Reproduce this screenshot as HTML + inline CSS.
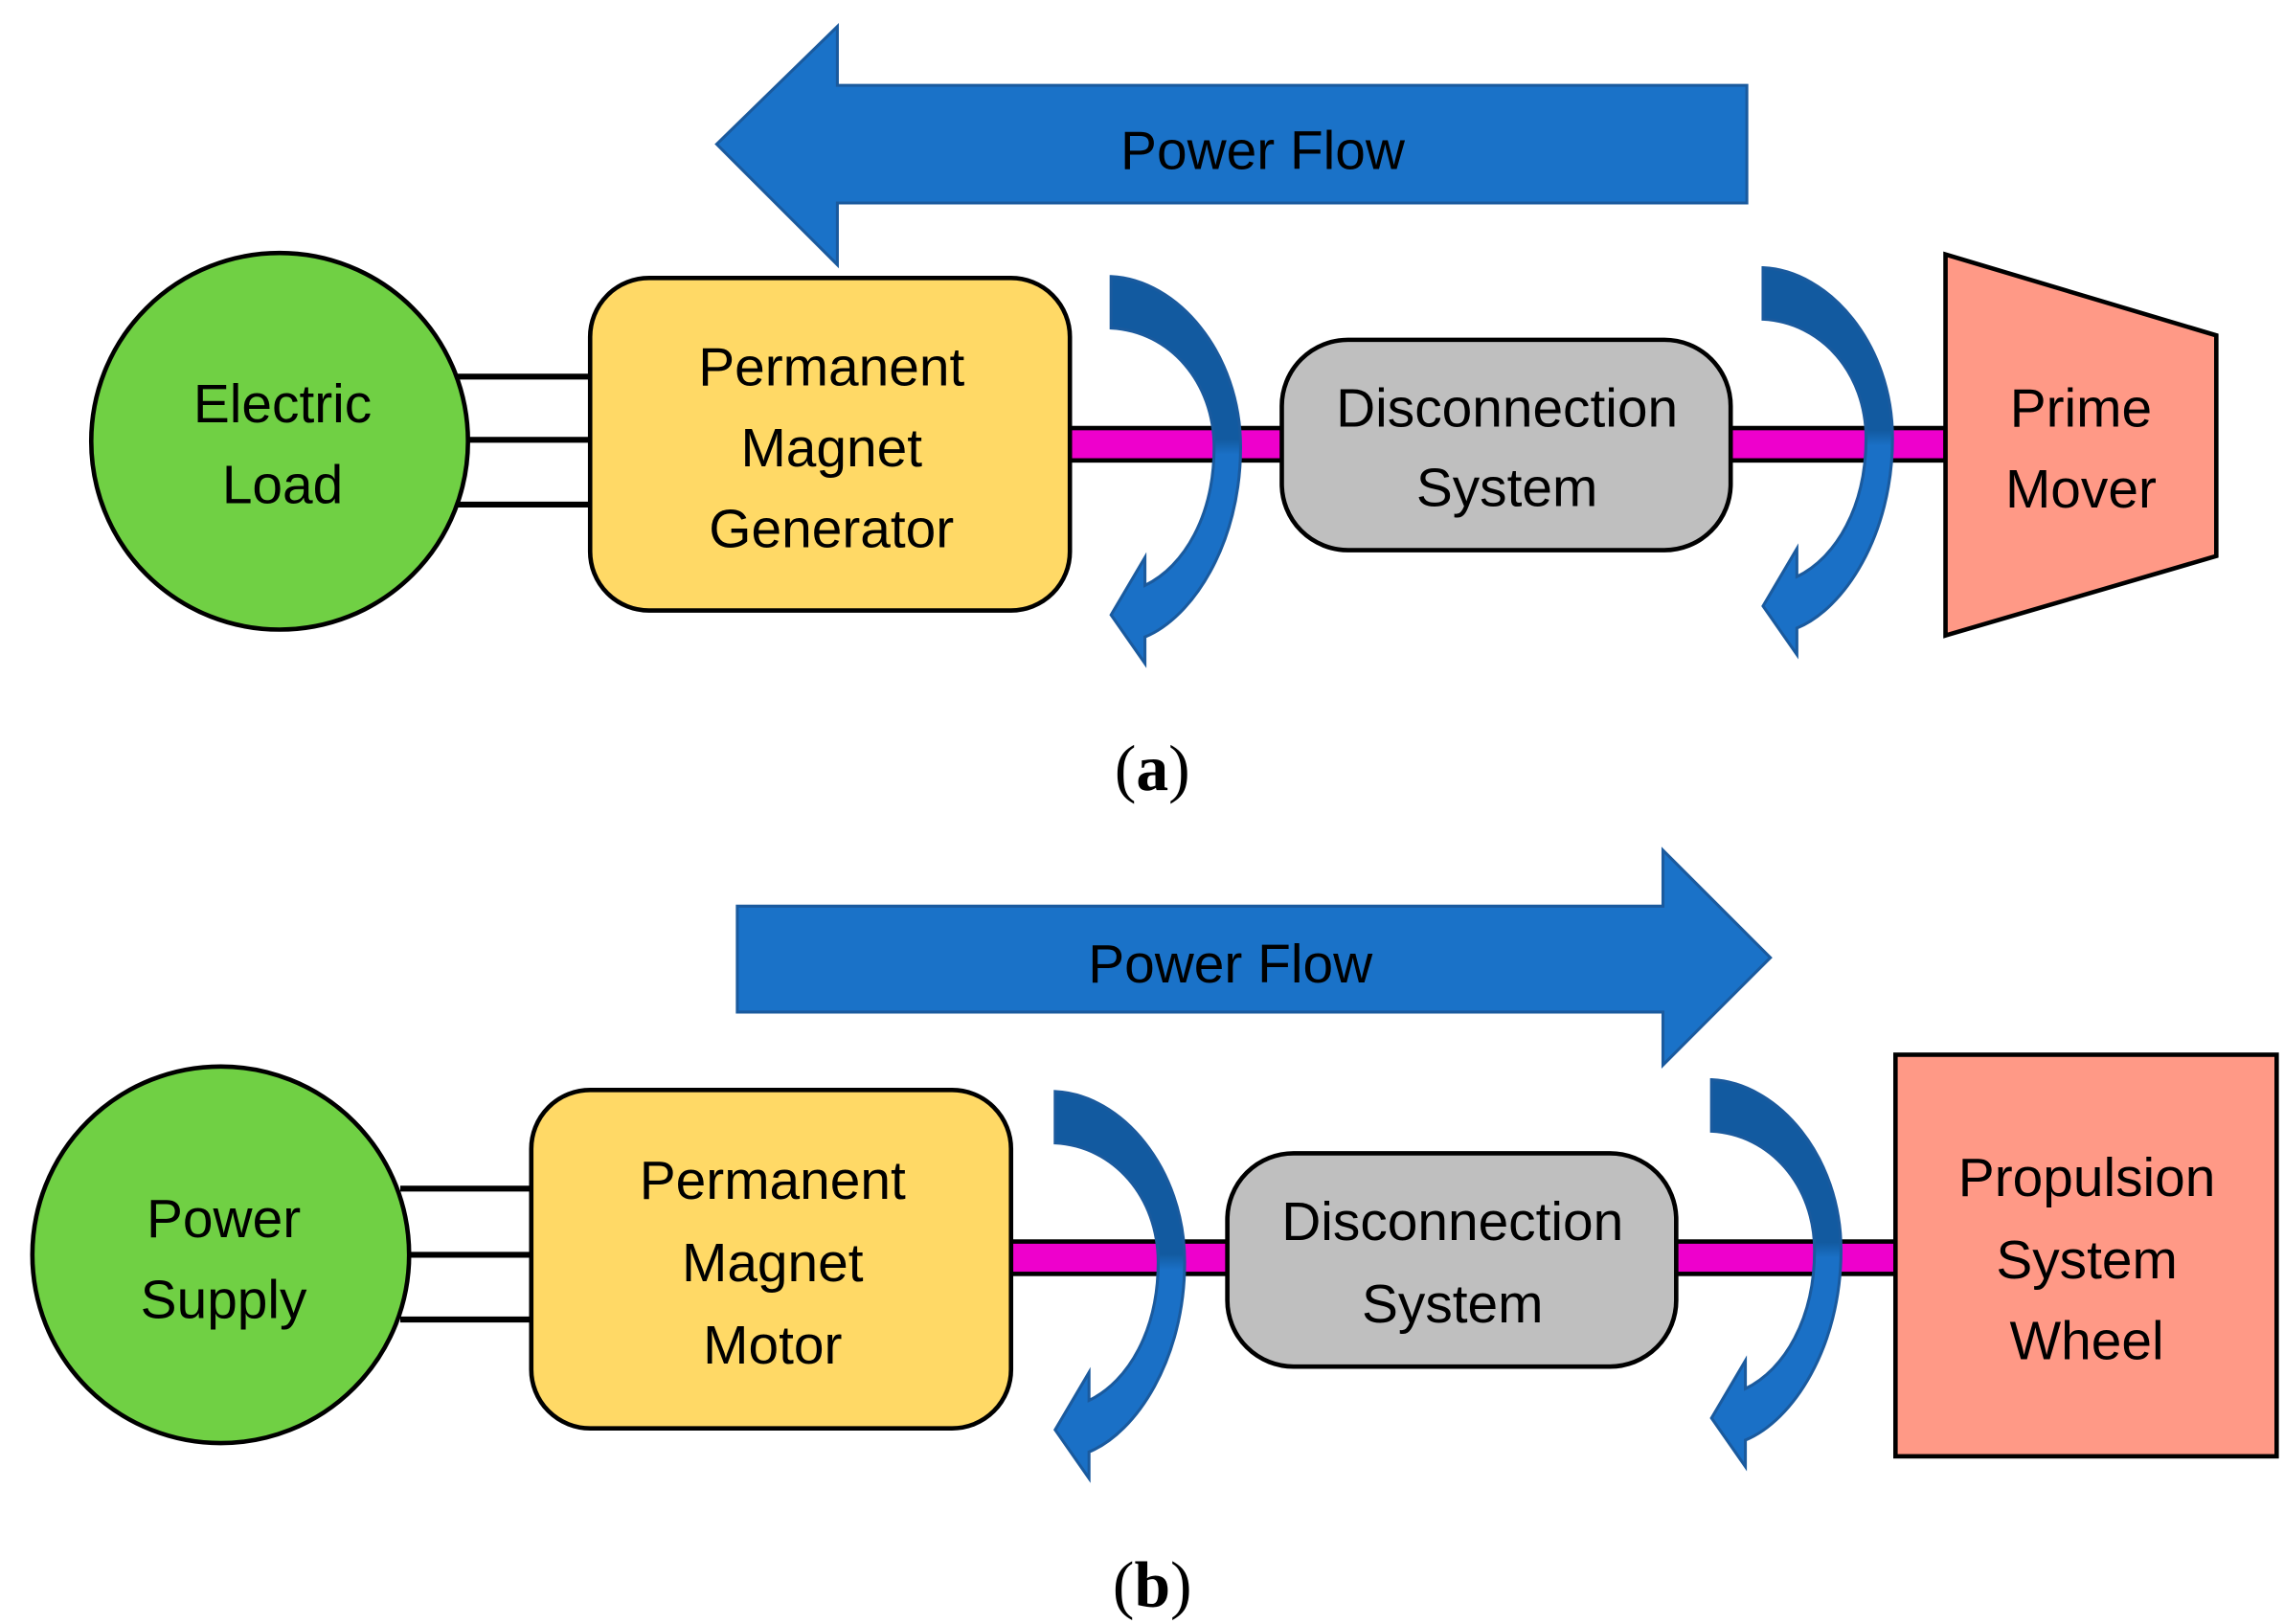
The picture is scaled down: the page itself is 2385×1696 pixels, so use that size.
<!DOCTYPE html>
<html><head><meta charset="utf-8"><style>html,body{margin:0;padding:0;background:#fff}svg{display:block}</style></head><body>
<svg width="2385" height="1696" viewBox="0 0 1552 1104" preserveAspectRatio="none" xmlns="http://www.w3.org/2000/svg">
<defs>
<linearGradient id="g" x1="0" y1="188" x2="0" y2="451" gradientUnits="userSpaceOnUse">
<stop offset="0" stop-color="#125aa0"/><stop offset="0.42" stop-color="#125aa0"/><stop offset="0.46" stop-color="#1a70c6"/><stop offset="1" stop-color="#1a70c6"/></linearGradient>
<path id="ca" d="M755,188 C800,190 843,240 843,304 C843,370 810,420 778,433 L778,451 L755,418 L778,379 L778,398 C805,385 825,350 825,304 C825,260 795,225 755,223 Z" fill="url(#g)" stroke="#1a5a9e" stroke-width="2"/>
</defs>
<g font-family="Liberation Sans, sans-serif" font-size="37" text-anchor="middle">
<!-- (a) -->
<polygon points="487,98 569,18 569,58 1187,58 1187,138 569,138 569,180" fill="#1a72c8" stroke="#1a5a9e" stroke-width="2"/>
<text x="858" y="115">Power Flow</text>
<line x1="310" y1="256" x2="401" y2="256" stroke="#000" stroke-width="4"/>
<line x1="310" y1="299" x2="401" y2="299" stroke="#000" stroke-width="4"/>
<line x1="310" y1="343" x2="401" y2="343" stroke="#000" stroke-width="4"/>
<circle cx="190" cy="300" r="128" fill="#70d044" stroke="#000" stroke-width="3"/>
<text x="192" y="287">Electric</text><text x="192" y="342">Load</text>
<rect x="727" y="291" width="595" height="22" fill="#ee00cc" stroke="#000" stroke-width="3"/>
<rect x="401" y="189" width="326" height="226" rx="40" fill="#ffd966" stroke="#000" stroke-width="3"/>
<text x="565" y="262">Permanent</text><text x="565" y="317">Magnet</text><text x="565" y="372">Generator</text>
<rect x="871" y="231" width="305" height="143" rx="45" fill="#bfbfbf" stroke="#000" stroke-width="3"/>
<text x="1024" y="290">Disconnection</text><text x="1024" y="344">System</text>
<polygon points="1322,173 1506,228 1506,378 1322,432" fill="#ff9986" stroke="#000" stroke-width="3"/>
<text x="1414" y="290">Prime</text><text x="1414" y="345">Mover</text>
<use href="#ca"/>
<use href="#ca" transform="translate(443,-6)"/>
<text x="783" y="537" font-family="Liberation Serif, serif" font-size="44">(<tspan font-weight="bold">a</tspan>)</text>
<!-- (b) -->
<polygon points="501,616 1130,616 1130,578 1203,651 1130,724 1130,688 501,688" fill="#1a72c8" stroke="#1a5a9e" stroke-width="2"/>
<text x="836" y="668">Power Flow</text>
<line x1="272" y1="808" x2="361" y2="808" stroke="#000" stroke-width="4"/>
<line x1="272" y1="853" x2="361" y2="853" stroke="#000" stroke-width="4"/>
<line x1="272" y1="897" x2="361" y2="897" stroke="#000" stroke-width="4"/>
<circle cx="150" cy="853" r="128" fill="#70d044" stroke="#000" stroke-width="3"/>
<text x="152" y="841">Power</text><text x="152" y="896">Supply</text>
<rect x="687" y="844" width="601" height="22" fill="#ee00cc" stroke="#000" stroke-width="3"/>
<rect x="361" y="741" width="326" height="230" rx="40" fill="#ffd966" stroke="#000" stroke-width="3"/>
<text x="525" y="815">Permanent</text><text x="525" y="871">Magnet</text><text x="525" y="927">Motor</text>
<rect x="834" y="784" width="305" height="145" rx="45" fill="#bfbfbf" stroke="#000" stroke-width="3"/>
<text x="987" y="843">Disconnection</text><text x="987" y="899">System</text>
<rect x="1288" y="717" width="259" height="273" fill="#ff9986" stroke="#000" stroke-width="3"/>
<text x="1418" y="813">Propulsion</text><text x="1418" y="869">System</text><text x="1418" y="924">Wheel</text>
<use href="#ca" transform="translate(-38,554)"/>
<use href="#ca" transform="translate(408,546)"/>
<text x="783" y="1092" font-family="Liberation Serif, serif" font-size="44">(<tspan font-weight="bold">b</tspan>)</text>
</g>
</svg>
</body></html>
